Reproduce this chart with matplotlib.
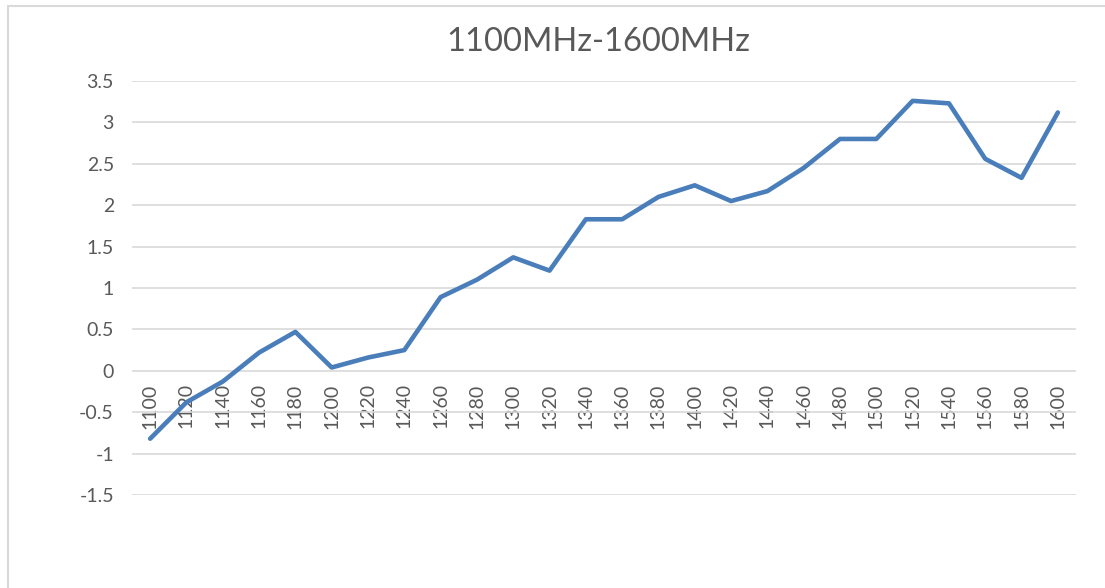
import matplotlib
matplotlib.use("Agg")
import matplotlib.pyplot as plt
from matplotlib.patches import Rectangle

# Дані з графіка
freqs = [1100, 1120, 1140, 1160, 1180, 1200, 1220, 1240, 1260, 1280,
         1300, 1320, 1340, 1360, 1380, 1400, 1420, 1440, 1460, 1480,
         1500, 1520, 1540, 1560, 1580, 1600]
values = [-0.82, -0.38, -0.13, 0.22, 0.47, 0.04, 0.16, 0.25, 0.89, 1.10,
          1.37, 1.21, 1.83, 1.83, 2.10, 2.24, 2.05, 2.17, 2.45, 2.80,
          2.80, 3.26, 3.23, 2.56, 2.33, 3.12]
y_ticks = [-1.5, -1, -0.5, 0, 0.5, 1, 1.5, 2, 2.5, 3, 3.5]
title = "1100MHz-1600MHz"

plt.rcParams['font.family'] = ['Lato', 'DejaVu Sans']
plt.rcParams['axes.unicode_minus'] = False

W, H = 1105, 588
fig = plt.figure(figsize=(W / 100, H / 100), dpi=100)

# Рамка діаграми (обрізана справа і знизу)
fig.patches.append(Rectangle((8 / W, -0.1), 1.2, (H - 6) / H + 0.1,
                             transform=fig.transFigure, fill=False,
                             edgecolor='#D9D9D9', linewidth=1.5))

ax = fig.add_axes([132 / W, (H - 495) / H, (1076 - 132) / W, (495 - 81) / H])
x = list(range(len(freqs)))
ax.plot(x, values, color='#4A7EBB', linewidth=3.3,
        solid_capstyle='round', solid_joinstyle='round', zorder=3)

ax.set_xlim(-0.5, len(freqs) - 0.5)
ax.set_ylim(-1.5, 3.5)
ax.set_yticks(y_ticks)
ax.set_yticklabels([f"{v:g}" for v in y_ticks])
ax.yaxis.grid(True, color='#D9D9D9', linewidth=1.2)
ax.set_axisbelow(True)

for name, sp in ax.spines.items():
    sp.set_visible(False)
ax.spines['bottom'].set_position(('data', 0))

ax.set_xticks(x)
ax.set_xticklabels([str(f) for f in freqs], rotation=90)
ax.tick_params(axis='x', length=0, pad=9, labelsize=14, colors='#595959')
ax.tick_params(axis='y', length=0, pad=13, labelsize=14, colors='#595959')

fig.text(598 / W, 1 - 42 / H, title, ha='center', va='center',
         fontsize=23.5, color='#595959')

fig.savefig("out.png", dpi=100)
